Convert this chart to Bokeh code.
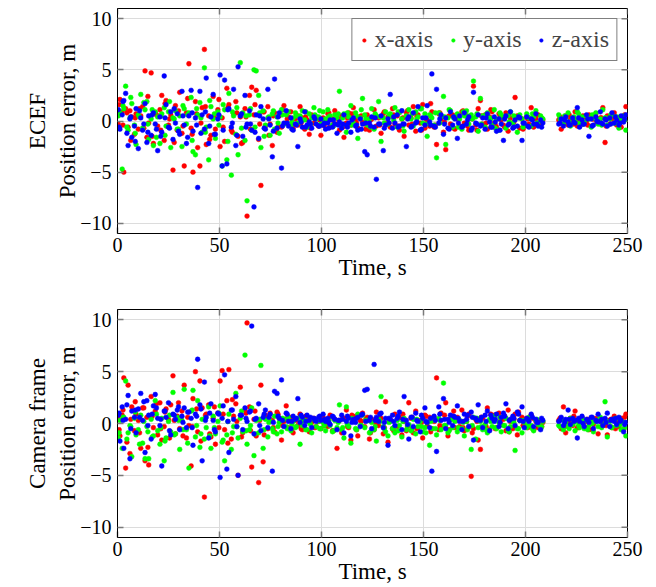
import math
from bokeh.plotting import figure
from bokeh.layouts import column
from bokeh.models import FixedTicker, Legend, LegendItem, Range1d
from bokeh.embed import file_html
from bokeh.resources import INLINE

# Time stamps, s (first block)
time_a = [
    0.4, 1.2, 2.3, 3.1, 4.0, 5.2, 6.1, 7.0, 8.3, 9.1,
    10.2, 11.4, 12.3, 13.5, 14.4, 15.3, 16.5, 17.6, 18.5, 19.7,
    20.8, 21.7, 22.9, 23.8, 25.0, 26.1, 27.2, 28.4, 29.3, 30.5,
    31.6, 32.7, 33.8, 35.0, 36.1, 37.0, 38.2, 39.3, 40.4, 41.5,
    42.6, 43.5, 44.7, 45.8, 46.9, 48.0, 49.2, 50.3, 51.3, 52.5,
    53.6, 54.6, 55.8, 56.9, 58.0, 59.1, 60.2, 61.4, 62.5, 63.5,
    64.7, 65.8, 66.9, 68.0, 69.2, 70.3, 71.4, 72.5, 73.7, 74.8,
    75.9, 77.0, 78.2, 79.3, 80.4, 81.6, 82.7, 83.8, 85.0, 86.1,
    87.2, 88.4, 89.5, 90.6, 91.8, 92.9, 94.0, 95.2, 96.3, 97.4,
    98.6, 99.7, 100.8, 102.0, 103.1, 104.2, 105.4, 106.5, 107.6, 108.8,
    109.9, 111.0, 112.2, 113.3, 114.4, 115.6, 116.7, 117.8, 119.0, 120.1,
    121.2, 122.4, 123.5, 124.6, 125.8, 126.9, 128.0, 129.2, 130.3, 131.4,
    132.6, 133.7, 134.8, 136.0, 137.1, 138.2, 139.4, 140.5, 141.6, 142.8,
    143.9, 145.0, 146.2, 147.3, 148.4, 149.6, 150.7, 151.8, 153.0, 154.1,
    155.2, 156.4, 157.5, 158.6, 159.8, 160.9, 162.0, 163.2, 164.3, 165.4,
    166.6, 167.7, 168.8, 170.0, 171.1, 172.2, 173.4, 174.5, 175.6, 176.8,
    177.9, 179.0, 180.2, 181.3, 182.4, 183.6, 184.7, 185.8, 187.0, 188.1,
    189.2, 190.4, 191.5, 192.6, 193.8, 194.9, 196.0, 197.2, 198.3, 199.4,
    200.6, 201.7, 202.8, 204.0, 205.1, 206.2, 207.4, 208.5,
    216.3, 217.5, 218.6, 219.7, 220.9, 222.0, 223.1, 224.3, 225.4, 226.5,
    227.7, 228.8, 229.9, 231.1, 232.2, 233.3, 234.5, 235.6, 236.7, 237.9,
    239.0, 240.1, 241.3, 242.4, 243.5, 244.7, 245.8, 246.9, 248.1, 249.2,
]
# Time stamps, s (second, interleaved block)
time_b = [
    0.8, 2.7, 4.6, 6.5, 8.7, 10.8, 12.9, 14.9, 17.0, 19.1,
    21.2, 23.3, 25.5, 27.8, 29.9, 32.1, 34.4, 36.6, 38.8, 40.9,
    43.1, 45.2, 47.5, 49.7, 51.8, 54.1, 56.3, 58.5, 60.8, 63.0,
    65.2, 67.4, 69.7, 71.9, 74.2, 76.4, 78.7, 80.9, 83.2, 85.5,
    87.7, 90.0, 92.3, 94.6, 96.8, 99.1, 101.4, 103.6, 105.9, 108.2,
    110.4, 112.7, 114.9, 117.2, 119.5, 121.7, 124.0, 126.3, 128.6, 130.8,
    133.1, 135.4, 137.6, 139.9, 142.2, 144.4, 146.7, 149.0, 151.2, 153.5,
    155.8, 158.0, 160.3, 162.6, 164.8, 167.1, 169.4, 171.6, 173.9, 176.2,
    178.4, 180.7, 183.0, 185.2, 187.5, 189.8, 192.0, 194.3, 196.6, 198.8,
    201.1, 203.4, 205.6, 207.9,
    216.9, 219.2, 221.4, 223.7, 226.0, 228.2, 230.5, 232.7, 235.0, 237.3,
    239.5, 241.8, 244.1, 246.3, 248.6,
]

# ECEF position error, m
ecef_x_a = [
    -0.3, 2.1, 0.9, -5.0, 1.2, -0.6, 1.0, 0.4, -1.3, 0.7,
    -0.8, 0.5, 1.4, 4.9, -1.6, -0.2, 4.7, -2.2, 0.8, -0.5,
    1.1, 2.5, -1.9, 2.0, -0.4, 0.6, -4.8, 1.5, -0.9, 2.8,
    -1.2, -4.4, 0.8, 5.6, -0.7, -5.0, 1.9, -2.6, -4.4, 1.3,
    7.0, -2.3, 0.5, -1.4, 2.4, -0.8, 1.1, -2.5, 0.3, -2.0,
    3.2, 1.6, -0.9, 0.7, 1.9, -1.5, 0.4, -2.1, 1.2, -9.3,
    2.5, 3.3, 0.6, 3.0, -1.8, -6.3, 0.9, -0.5, 1.4, -0.3,
    -2.4, 0.8, -1.1, 0.5, -0.6, 1.5, -0.2, 0.4, 0.9, -0.7,
    0.2, -0.4, 1.4, 0.3, -0.8, 0.1, -1.3, 0.6, -0.2, 0.4,
    -0.5, -1.4, 0.3, -0.1, 0.7, -0.6, 0.2, 1.0, -0.3, -0.9,
    0.5, -1.6, -0.2, 0.8, -0.4, 1.3, 0.1, -0.7, 0.4, -0.1,
    -0.3, 0.6, -0.9, 0.2, 1.1, -0.5, 0.3, -1.2, 0.7, -0.2,
    0.4, -0.6, 1.2, -0.3, 0.5, -0.9, 0.2, -1.5, 0.8, -0.4,
    0.3, 1.4, -1.0, 0.6, -0.2, 1.6, -0.7, 0.1, -0.5, 0.9,
    -0.6, -2.3, 0.7, 0.2, -1.1, -2.8, 0.4, -0.3, 0.6, -0.8,
    0.2, -0.5, 0.9, -0.2, 0.5, -0.9, 0.3, 3.4, -0.4, 1.2,
    2.0, -0.3, 0.6, -0.8, 0.4, 0.9, -0.2, -0.6, 0.7, 0.1,
    -0.4, 0.8, -1.0, 0.3, -0.2, 2.3, 0.5, -0.7, 0.2, -0.5,
    0.4, -0.3, 1.3, -0.6, 0.2, 0.6, -0.4, 0.1,
    0.1, -0.8, 0.3, 0.5, -0.4, 0.2, -0.2, 0.9, -0.5, 0.3,
    -0.3, 0.4, -0.1, 0.6, -0.5, 0.2, 0.7, -0.2, 0.3, 1.3,
    -2.1, 0.5, -0.3, 0.2, 0.8, -0.4, 0.1, -0.6, 0.3, 1.4,
]
ecef_x_b = [
    1.6, -0.4, 0.8, -1.9, 0.3, 1.2, -0.7, 2.4, -1.5, 0.6,
    -0.9, 1.7, 0.2, -2.1, 1.0, -0.5, 2.2, -1.3, 0.7, -0.2,
    1.4, -1.8, 0.5, 2.1, -0.6, 1.3, -1.1, 0.8, -2.2, 0.4,
    -0.8, 1.6, -0.3, 0.9, -1.4, 0.5, -0.6, 1.1, 0.2, -0.4,
    0.6, -0.2, 0.4, -0.7, 0.3, 0.1, -0.5, 0.8, -0.3, 0.2,
    -0.6, 0.3, 0.7, -0.2, 0.5, -0.8, 0.1, 0.4, -0.4, 0.9,
    -0.2, 0.6, -0.5, 0.3, 1.0, -0.3, 0.5, -0.9, 0.2, 1.7,
    -0.4, 0.8, -0.1, 0.5, -0.7, 0.3, 1.0, -0.5, 0.2, -0.9,
    0.5, -0.2, 1.1, -0.4, 0.3, -0.6, 0.7, -0.1, 0.4, -0.8,
    0.2, -0.5, 0.6, -0.2,
    0.4, -0.2, 0.6, -0.3, 0.1, 0.5, -0.4, 0.2, -0.1, 0.3,
    -0.5, 0.2, 0.4, -0.2, 0.6,
]
ecef_y_a = [
    0.5, 0.8, -4.7, 1.2, 3.4, -0.9, 0.3, 1.7, -0.4, -2.3,
    0.6, 2.6, -0.7, 1.1, 1.9, -1.8, 0.2, -2.4, 0.9, 0.4,
    -2.2, 0.7, 1.3, -0.5, 0.9, -2.6, 0.3, 1.0, -0.8, 0.5,
    -2.5, 1.2, -0.3, 0.8, 2.3, -3.0, -3.3, 0.6, 1.8, -1.1,
    5.2, -0.6, -3.8, 1.4, 0.2, -1.7, 0.9, 0.4, -4.4, 1.1,
    -3.8, 2.7, -5.3, 0.5, -1.3, -3.3, 5.7, 0.8, -1.9, -7.8,
    0.6, -0.9, 5.0, 4.9, 2.5, -2.6, 1.0, -0.4, 0.3, -1.4,
    0.7, -0.8, 0.4, -1.2, 1.1, -0.3, 0.6, 0.9, -0.5, 0.3,
    0.8, -0.2, 0.5, 1.0, 0.1, -0.6, 0.7, 0.3, 1.3, 0.2,
    0.4, -0.3, 0.9, 0.2, 1.1, 0.5, -0.4, 0.6, 0.3, 2.9,
    -0.5, 0.7, -1.1, 0.4, 1.5, -0.2, 0.8, -1.7, 0.3, 2.2,
    0.6, -0.4, 0.2, 1.2, -0.8, 0.5, 1.9, -2.0, 0.3, 0.9,
    -0.3, 0.7, 0.4, 1.3, -0.6, 0.8, 0.2, -1.0, 0.5, 1.1,
    0.2, -0.5, 0.9, 0.4, 1.2, -0.2, 0.7, -1.5, 0.6, 0.3,
    -0.4, -3.6, 0.8, 0.5, 2.4, -2.3, 0.3, 1.0, -0.6, 0.4,
    0.7, 0.2, -0.8, 0.5, 1.0, -0.3, 0.6, 3.9, 0.4, -1.0,
    2.2, 0.5, -0.6, 0.8, 0.3, -0.4, 1.1, 0.2, -0.9, 0.6,
    0.3, -0.7, 0.5, 0.9, -0.2, 0.4, -1.1, 0.6, 0.2, -0.3,
    0.7, 0.3, -0.5, 0.4, 1.0, -0.2, 0.5, 0.2,
    0.6, 0.2, -0.3, 0.4, 0.8, -0.5, 0.3, 0.1, 0.9, -0.2,
    0.4, -0.1, 0.5, 0.2, -0.6, 0.3, 0.8, -0.3, 0.2, 1.1,
    0.3, -0.4, 0.2, 0.6, -0.2, 0.4, -0.7, 0.1, 0.5, -0.9,
]
ecef_y_b = [
    0.9, 1.5, -0.6, 2.3, -1.2, 0.4, 1.8, -0.3, 1.1, -1.6,
    0.5, -1.4, 1.9, 0.2, -0.8, 1.5, 0.6, -1.9, 1.2, 0.3,
    -1.1, 2.0, 0.7, -0.4, 1.6, -2.0, 0.9, 1.3, -0.7, 0.5,
    1.2, -0.6, 0.8, -1.5, 0.4, 1.0, -0.2, 0.6, 0.9, -0.1,
    0.5, 0.2, 0.9, -0.3, 0.6, 1.0, 0.1, 0.4, -0.5, 0.7,
    0.3, 0.8, -0.4, 0.5, 1.1, 0.2, -0.6, 0.7, 0.4, -0.2,
    0.6, 0.1, 0.9, -0.5, 0.4, 0.7, 0.2, 1.2, -0.3, 0.5,
    0.8, -0.2, 0.4, 1.1, 0.3, -0.6, 0.9, 0.5, 0.2, 0.7,
    -0.3, 0.6, 0.2, -0.7, 0.8, 0.4, -0.1, 0.5, 0.3, -0.6,
    0.4, 0.7, -0.2, 0.3,
    0.2, 0.5, -0.1, 0.4, 0.7, -0.3, 0.3, 0.6, 0.1, -0.4,
    0.3, 0.6, -0.2, 0.4, 0.1,
]
ecef_z_a = [
    1.1, -0.8, 0.6, 2.0, 2.7, -2.4, 0.2, -1.6, -0.5, 1.2,
    -2.7, 0.3, -0.9, 1.7, -2.1, 0.5, -1.4, 0.8, -0.3, -2.9,
    0.4, -1.1, 4.4, 1.6, -0.6, 0.9, -1.8, -0.2, 0.7, -1.3,
    2.9, -0.4, -2.2, 0.5, 3.0, -1.0, 0.3, -6.5, 2.9, 0.6,
    -0.8, 4.2, -2.2, 0.4, 2.6, -1.3, 0.2, 4.5, -4.4, 4.0,
    -4.2, 1.2, -0.6, 3.1, -2.4, 5.3, 0.5, -1.5, 2.5, -0.3,
    1.0, -0.9, -8.4, 0.6, -1.7, 1.4, 0.2, -0.8, 3.1, -0.4,
    -3.5, 4.1, -0.7, 0.8, -4.6, -0.2, 1.0, -0.5, 0.3, -0.9,
    -0.3, -2.5, 0.2, -0.6, 0.9, -0.4, -0.1, -0.7, 0.4, -0.3,
    -0.5, 0.2, -0.4, -0.8, -0.2, 0.1, -0.6, -0.3, -1.2, -0.1,
    -0.7, 0.6, -0.4, -0.2, -1.1, 0.3, -0.5, -0.9, 0.2, -0.3,
    -3.0, -3.3, -0.2, 0.4, -0.6, -5.7, -0.3, 0.5, -2.9, -0.4,
    0.2, 2.6, -0.7, -0.2, 0.6, -0.5, 1.0, -0.3, -2.5, 0.4,
    -0.6, 0.8, -0.2, 1.4, -0.9, 0.3, -0.4, 1.5, -0.1, 4.6,
    -0.5, 3.1, -0.2, 0.6, -1.3, 0.3, -0.7, 0.9, -0.4, 0.2,
    -1.7, 0.5, -0.6, 0.8, -0.3, 0.4, -0.9, 2.8, -0.2, 0.6,
    -0.5, 0.3, -0.8, 0.7, -0.1, -0.6, 0.4, -1.0, 0.2, -0.3,
    -1.9, 0.5, -0.4, 0.9, -0.7, 0.1, -0.5, 0.3, -1.9, -0.2,
    0.4, -0.6, 0.2, -0.3, 0.7, -0.5, 0.1, -0.2,
    -0.3, 0.2, -0.5, 0.4, -0.1, -0.4, 0.3, -0.2, 1.3, -0.6,
    0.1, -0.3, 0.6, -1.5, 0.2, -0.4, 0.4, -0.1, 0.9, -0.3,
    0.2, -0.5, 0.3, 0.8, -0.2, 0.1, -0.4, 0.5, -0.1, 0.6,
]
ecef_z_b = [
    -0.6, 1.9, -1.2, 0.4, -2.0, 1.0, -0.3, -1.1, 0.6, -0.8,
    -1.5, 0.3, -0.7, 1.2, -1.0, 0.5, -1.6, 0.8, -0.4, -1.2,
    0.9, -0.5, -1.3, 0.6, -0.9, 1.1, -0.2, -1.4, 0.7, -0.6,
    -0.3, -1.1, 0.5, -0.7, 0.2, -1.0, 0.4, -0.5, -0.2, -0.8,
    -0.4, -0.1, -0.6, -0.3, 0.2, -0.5, -0.2, -0.7, 0.1, -0.4,
    -0.3, -0.6, 0.1, -0.4, -0.8, -0.2, -0.5, 0.3, -0.3, -0.7,
    -0.2, 0.4, -0.6, -0.3, 0.2, -0.5, -0.1, -0.8, 0.3, -0.4,
    -0.6, 0.2, -0.3, -0.8, 0.4, -0.2, -0.5, 0.1, -0.7, -0.3,
    -0.4, 0.3, -0.6, -0.1, -0.9, 0.2, -0.3, -0.6, 0.4, -0.2,
    -0.5, 0.1, -0.3, -0.6,
    -0.2, 0.1, -0.4, -0.1, 0.3, -0.3, 0.2, -0.5, 0.0, -0.2,
    0.1, -0.3, 0.4, -0.2, 0.2,
]

# Camera-frame position error, m
cam_x_a = [
    0.5, -1.2, 0.8, 4.4, -4.3, 3.7, -2.9, 1.6, -0.7, 0.9,
    0.3, -2.4, 1.5, -3.6, 0.6, -4.0, 2.6, -0.4, 1.2, -1.1,
    2.0, -1.6, -0.3, 1.4, 0.4, 1.8, 4.6, -1.0, 0.7, -0.5,
    1.2, 3.7, -1.4, -0.2, -4.1, 2.4, 5.0, -0.8, 4.1, 1.5,
    -7.1, 0.9, 1.8, -1.3, 0.5, -2.0, 1.0, 4.1, 5.1, -0.6,
    2.2, 5.2, -1.5, 0.7, 1.9, -5.0, 3.5, -0.9, 1.3, 9.7,
    1.6, -4.2, 0.4, -1.2, -5.7, 3.7, -3.7, 0.8, -0.5, 1.0,
    0.3, -0.8, 1.1, 0.5, -1.6, 0.2, 1.7, -0.4, 0.6, -0.9,
    0.4, -0.2, 0.9, -0.6, 0.3, 0.7, -0.8, 0.1, 0.5, -0.3,
    0.2, -0.5, 0.6, 0.1, -0.3, 0.8, -0.7, 0.4, -2.4, 0.3,
    -0.9, 0.5, 1.3, -0.4, -1.6, 0.2, 0.7, -1.2, 0.3, 1.0,
    -0.3, 0.6, -1.5, 0.4, -0.6, 1.1, -0.2, 0.5, -1.0, 2.1,
    -1.8, 0.4, -0.5, 0.9, -0.3, 0.6, -1.1, 0.2, -0.7, 2.0,
    0.5, -0.9, 1.2, -0.4, 0.3, -1.4, 0.8, -0.2, 0.6, -0.5,
    0.2, 4.4, -0.6, 1.0, -0.3, 2.0, -1.2, 0.4, 0.7, -0.4,
    0.6, -0.3, 1.3, -0.7, 0.2, 0.9, -5.1, -0.5, 0.4, -1.6,
    -2.5, 0.5, -0.2, 1.5, -0.6, 0.3, 0.8, -0.4, 1.0, -0.1,
    0.4, -0.7, 1.3, 0.2, -0.5, 0.9, -1.1, 0.3, 0.6, -0.2,
    0.5, -0.3, 0.8, -0.6, 0.2, -0.4, 0.3, 0.1,
    0.3, -0.5, 1.6, -0.9, 0.2, 0.5, -0.2, 1.2, -0.4, 0.3,
    0.6, -0.3, 0.2, -0.6, 0.4, -0.1, 0.5, -1.0, 0.3, -0.2,
    0.4, -1.1, 0.3, -0.4, 0.7, 0.1, -0.3, 0.5, -0.6, 0.9,
]
cam_x_b = [
    -0.6, 1.3, -1.8, 0.4, 2.1, -0.9, 1.5, -2.3, 0.7, 1.9,
    -0.5, 1.1, -1.4, 0.3, 2.0, -1.2, 0.6, -0.3, 1.4, -1.7,
    0.8, -1.0, 1.6, -0.4, 0.9, -1.9, 2.3, 0.2, -1.3, 1.0,
    -0.7, 1.2, 0.3, -1.1, 0.6, -0.4, 0.9, -0.2, 0.5, -0.6,
    0.3, -0.5, 0.7, 0.1, -0.4, 0.6, -0.2, 0.4, -0.7, 0.2,
    0.5, -0.3, 0.8, -0.6, 0.2, 0.4, -0.9, 0.1, 0.6, -0.4,
    0.2, -0.7, 0.5, 0.9, -0.3, 0.6, -0.5, 0.1, 0.7, -0.8,
    0.4, -0.2, 0.8, -0.6, 1.2, 0.3, -0.4, 0.7, -0.9, 0.2,
    0.6, -0.3, 0.9, -0.5, 0.2, 0.7, -0.8, 0.4, 1.1, -0.2,
    -0.4, 0.5, 0.2, -0.3,
    0.5, -0.3, 0.2, 0.7, -0.4, 0.1, 0.4, -0.6, 0.3, 0.1,
    -0.2, 0.4, -0.5, 0.2, 0.6,
]
cam_y_a = [
    -1.4, 0.3, -2.4, 0.6, 4.1, -0.9, -0.2, -3.2, 0.5, -1.1,
    -0.6, 0.8, -1.9, -3.4, -0.3, -3.4, 0.4, -1.2, 2.2, -0.7,
    -2.0, 0.5, -3.6, -1.4, 0.2, -0.8, 3.0, -1.0, 0.6, -2.5,
    0.3, 3.3, -0.6, -4.3, 1.2, 3.2, -1.3, 2.2, -2.3, 0.4,
    -1.5, -0.4, 1.6, -2.4, 0.7, -1.0, 0.2, 1.7, -1.8, -3.6,
    -1.1, 0.9, -2.5, -0.3, 2.9, -1.4, 0.5, -0.8, 6.6, -2.0,
    -0.6, 1.5, -3.1, 0.3, -0.9, 5.6, -2.4, 0.4, -1.3, 0.2,
    -0.5, 0.7, -1.0, 0.1, -0.8, 0.4, -0.3, 0.6, -0.7, 0.2,
    -0.4, 0.5, -2.0, -0.2, 0.3, -0.6, 0.1, -0.9, 0.4, -0.3,
    0.2, -0.5, 0.1, -0.7, 0.4, -0.2, -0.8, 0.3, -0.4, 1.8,
    -0.6, -1.4, 1.6, -0.3, -1.9, 0.2, -0.5, 0.9, -0.2, 0.8,
    -0.4, 0.3, -0.9, 0.1, -0.6, -1.7, 0.4, 2.6, -0.3, -0.8,
    -1.2, 0.2, -0.5, -0.9, 0.3, -0.2, -1.3, 0.5, -0.6, -0.1,
    -0.7, 0.4, -1.0, -0.3, 0.2, -0.8, -0.4, 0.1, -2.1, -0.5,
    0.3, -1.1, 0.5, -0.6, 3.9, -0.2, -0.9, 0.4, -0.4, 0.2,
    -0.8, 0.3, -0.5, -1.2, 0.2, -0.3, -2.5, 0.6, -1.5, -0.4,
    0.2, -0.6, -0.1, -0.9, 0.4, -0.3, 0.7, -0.5, 0.1, -0.8,
    -0.2, 0.5, -0.7, -0.3, 0.2, -2.6, -0.5, 0.3, -0.9, 0.1,
    -0.4, 0.6, -0.2, -0.7, 0.3, -0.1, -0.5, 0.2,
    -0.2, 0.4, -0.6, 0.1, -0.3, 0.5, -0.1, -0.7, 0.2, -0.4,
    0.1, -0.5, 0.3, -0.2, 0.4, -0.8, 0.2, -0.3, 0.6, -0.1,
    2.1, -1.3, 0.2, -0.4, 0.3, -0.2, 0.5, -0.6, 0.1, -1.2,
]
cam_y_b = [
    -0.9, 0.6, -1.5, -0.3, 1.1, -2.0, 0.2, -0.8, -1.3, 0.9,
    -0.4, -1.7, 0.8, -1.1, 0.3, -0.6, -1.9, 1.3, -0.2, -1.0,
    0.5, -1.2, -0.4, 1.0, -1.6, 0.2, -0.9, -0.3, 1.2, -0.7,
    -0.2, -1.0, 0.4, -0.6, 0.1, -0.8, -0.3, 0.5, -0.5, -0.1,
    -0.3, 0.2, -0.6, -0.1, 0.4, -0.5, -0.2, 0.3, -0.7, 0.1,
    -0.4, -0.1, 0.5, -0.6, -0.2, 0.3, -0.8, -0.3, 0.2, -0.5,
    0.1, -0.4, -0.7, 0.2, -0.2, -0.5, 0.4, -0.3, -0.9, 0.2,
    -0.5, 0.3, -0.2, -0.7, 0.4, -0.4, 0.1, -0.6, -0.2, 0.5,
    -0.3, -0.6, 0.2, -0.4, 0.6, -0.2, -0.8, 0.1, -0.5, 0.3,
    -0.2, -0.5, 0.4, -0.3,
    -0.3, 0.2, -0.5, 0.1, -0.2, 0.4, -0.6, 0.0, 0.3, -0.4,
    0.2, -0.3, 0.5, -0.1, -0.4,
]
cam_z_a = [
    0.8, -1.7, 1.6, -2.4, 0.4, 2.7, -3.4, 1.2, 0.6, -0.9,
    1.4, 2.9, 0.3, -2.8, 2.2, 0.8, -1.5, 1.7, 2.8, 0.5,
    -0.2, -4.1, 1.2, 0.6, 2.0, -1.1, 0.9, 0.4, 1.3, -0.6,
    0.7, 1.5, -0.4, 1.1, 0.5, -2.1, 0.9, 6.2, 1.8, -3.6,
    4.0, 0.6, -1.4, 1.9, 0.3, -0.8, 1.0, -5.2, 0.5, 4.7,
    -4.4, -2.8, 1.3, 0.4, 2.6, -5.0, 0.8, -0.6, 1.5, 0.2,
    1.1, 9.4, -1.0, 0.5, 1.9, -0.7, 0.6, 1.3, -0.4, 0.9,
    -4.6, 3.1, 2.9, 0.5, 4.2, -0.3, 1.0, 0.2, -0.5, 0.7,
    0.4, 2.4, 0.1, 0.6, -0.2, 0.8, 0.3, -0.4, 0.5, 0.2,
    0.6, 0.3, 0.9, 0.2, 0.5, -0.1, 0.7, 0.4, -0.6, 0.3,
    0.8, -0.9, 0.2, 0.5, -1.2, 0.4, 0.1, 0.6, -0.3, 0.9,
    3.2, 3.3, 0.3, -0.5, 5.7, 0.6, 0.2, 1.0, -0.4, 0.5,
    -2.1, 0.4, 0.8, -0.2, 0.5, 1.1, -0.6, 2.6, 0.3, -1.5,
    0.6, -0.3, 1.0, 0.2, -0.8, 0.5, 1.5, 0.1, -0.4, -4.6,
    0.7, -2.7, 1.6, 0.3, 2.4, -0.5, 0.4, 0.8, -0.2, 0.6,
    1.7, 0.2, -0.6, 0.9, 0.4, -0.3, 1.1, -1.6, 0.5, 1.8,
    0.3, -0.4, 0.8, 1.2, -0.7, 0.5, 0.2, 0.9, -0.3, 0.6,
    1.0, 1.9, -0.5, 0.4, 0.7, -0.2, 1.1, 0.3, 1.6, -0.4,
    0.5, 0.2, 0.9, -0.3, 0.4, 0.1, -0.6, 0.3,
    0.2, 0.6, -0.2, 0.4, 1.3, -0.1, 0.5, 0.3, -1.4, 0.2,
    0.7, -0.3, 0.4, 0.1, 0.6, -0.5, 0.3, 0.9, 0.2, -0.2,
    0.5, 1.0, -0.3, 0.4, 0.2, -0.1, 0.6, 0.3, -0.8, 0.1,
]
cam_z_b = [
    1.0, 0.3, 1.8, -0.5, 1.3, 0.6, 2.1, -0.2, 0.9, 1.5,
    0.4, 1.2, -0.7, 0.8, 1.6, 0.1, 1.1, -0.4, 0.7, 1.4,
    0.3, 1.0, -0.6, 0.9, 1.7, 0.2, 1.3, -0.3, 0.8, 0.5,
    1.2, 0.4, -0.2, 0.9, 0.6, 0.1, 0.7, 0.3, 0.9, 0.2,
    0.5, 0.8, 0.2, 0.6, 0.3, 0.7, 0.4, 0.1, 0.6, 0.3,
    0.4, 0.7, 0.1, 0.5, 0.8, 0.2, 0.6, 0.3, 0.9, 0.1,
    0.5, 0.2, 0.7, 0.4, -0.1, 0.6, 0.3, 0.8, 0.2, 0.5,
    0.3, 0.9, 0.4, 0.1, 0.7, 0.5, 0.2, 0.8, 0.6, 0.3,
    0.6, 0.2, 0.8, 0.4, 0.1, 0.7, 0.3, 0.5, 0.9, 0.2,
    0.4, 0.6, 0.1, 0.5,
    0.3, 0.1, 0.4, 0.2, 0.5, 0.0, 0.3, 0.6, 0.2, 0.4,
    0.1, 0.3, 0.5, 0.2, -0.1,
]

x_ticks = [0, 50, 100, 150, 200, 250]
y_ticks = [-10, -5, 0, 5, 10]
y_tick_labels = {-10: "\u221210", -5: "\u22125", 0: "0", 5: "5", 10: "10"}
series_names = ["x-axis", "y-axis", "z-axis"]
series_colors = ["#ff0000", "#00ff00", "#0000ff"]
x_lim = (0, 250)
y_lim = (-11, 11)

for arr in (ecef_x_a, ecef_y_a, ecef_z_a, cam_x_a, cam_y_a, cam_z_a):
    assert len(arr) == len(time_a), len(arr)
for arr in (ecef_x_b, ecef_y_b, ecef_z_b, cam_x_b, cam_y_b, cam_z_b):
    assert len(arr) == len(time_b), len(arr)

time_all = time_a + time_b

FONT = "Liberation Serif"
TICK_FS = "20px"
LABEL_FS = "23px"
TICK_COLOR = "#7a7a7a"


def style_axis(ax, ticks):
    ax.ticker = FixedTicker(ticks=ticks)
    ax.major_tick_in = 6
    ax.major_tick_out = 0
    ax.major_tick_line_color = TICK_COLOR
    ax.major_tick_line_width = 1.5
    ax.minor_tick_line_color = None
    ax.axis_line_color = "black"
    ax.axis_line_width = 1
    ax.major_label_text_font = FONT
    ax.major_label_text_font_size = TICK_FS
    ax.major_label_text_color = "black"
    ax.axis_label_text_font = FONT
    ax.axis_label_text_font_size = LABEL_FS
    ax.axis_label_text_font_style = "normal"
    ax.axis_label_text_color = "black"


def make_fig(height, top, bottom, ylabel, values, with_legend):
    p = figure(width=656, height=height,
               x_range=Range1d(*x_lim), y_range=Range1d(*y_lim),
               output_backend="svg", toolbar_location=None,
               min_border_left=117, min_border_right=29,
               min_border_top=top, min_border_bottom=bottom)
    p.outline_line_color = "black"
    p.outline_line_width = 1
    p.background_fill_color = "white"
    p.border_fill_color = "white"

    style_axis(p.xaxis[0], x_ticks)
    style_axis(p.yaxis[0], y_ticks)
    p.xaxis[0].axis_label = "Time, s"
    p.xaxis[0].major_label_standoff = 4
    p.xaxis[0].axis_label_standoff = 0
    p.yaxis[0].axis_label = ylabel
    p.yaxis[0].major_label_standoff = 6
    p.yaxis[0].axis_label_standoff = -3
    p.yaxis[0].major_label_overrides = y_tick_labels

    p.xgrid.ticker = FixedTicker(ticks=x_ticks)
    p.ygrid.ticker = FixedTicker(ticks=y_ticks)
    for g in (p.xgrid, p.ygrid):
        g.grid_line_color = "#dcdcdc"
        g.grid_line_width = 1

    # mirrored inward ticks on the right and top edges (clipped to the frame)
    p.scatter([x_lim[1]] * len(y_ticks), y_ticks, marker="dash", size=12,
              line_color=TICK_COLOR, line_width=1.5)
    p.scatter(x_ticks, [y_lim[1]] * len(x_ticks), marker="dash", size=12,
              angle=math.pi / 2, line_color=TICK_COLOR, line_width=1.5)

    items = []
    for name, col, vals in zip(series_names, series_colors, values):
        r = p.scatter(time_all, vals, size=4.8, fill_color=col, line_color=col,
                      line_width=0.5)
        items.append(LegendItem(label=name, renderers=[r]))

    if with_legend:
        leg = Legend(items=items, orientation="horizontal", location="top_right")
        leg.label_text_font = FONT
        leg.label_text_font_size = "24px"
        leg.label_standoff = 6
        leg.glyph_width = 9
        leg.glyph_height = 14
        leg.spacing = 15
        leg.padding = 7
        leg.margin = 10
        leg.border_line_color = "black"
        leg.border_line_width = 1
        leg.background_fill_alpha = 1.0
        p.add_layout(leg, "center")
    return p


p1 = make_fig(295, 8, 62, "ECEF\nPosition error, m",
              [ecef_x_a + ecef_x_b, ecef_y_a + ecef_y_b, ecef_z_a + ecef_z_b], True)
p2 = make_fig(292, 14, 50, "Camera frame\nPosition error, m",
              [cam_x_a + cam_x_b, cam_y_a + cam_y_b, cam_z_a + cam_z_b], False)

layout = column(p1, p2, spacing=0)
open("out.html", "w").write(file_html(layout, INLINE))
